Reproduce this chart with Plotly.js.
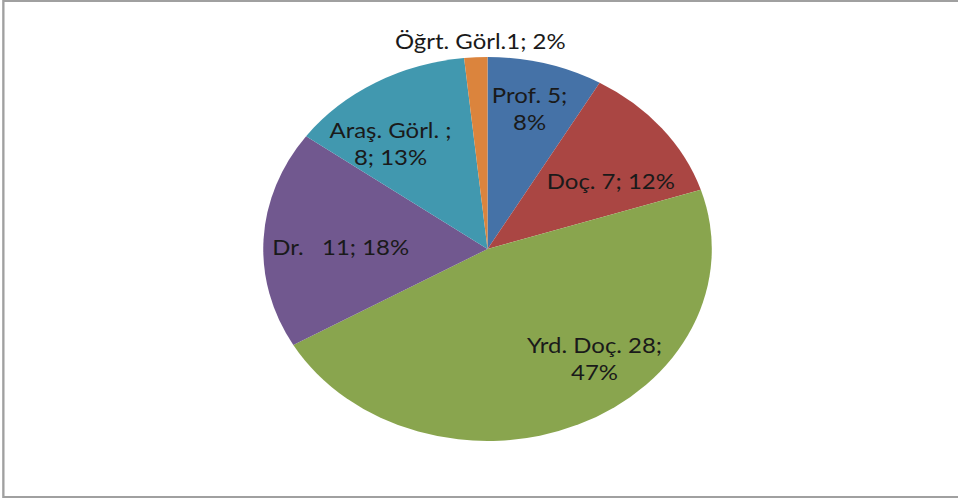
<!DOCTYPE html>
<html>
<head>
<meta charset="utf-8">
<script src="https://cdn.plot.ly/plotly-3.0.1.min.js"></script>
<style>
  html, body { margin: 0; padding: 0; background: #ffffff; overflow: hidden; }
  #wrap { width: 958px; height: 499px; overflow: hidden; }
  #chart { width: 820px; height: 499px; transform-origin: 0 0; transform: scaleX(1.16829); }
</style>
</head>
<body>
<div id="wrap"><div id="chart"></div></div>
<script>
// Data
const labels = ["Prof.", "Doç.", "Yrd. Doç.", "Dr. ", "Araş. Görl.", "Öğrt. Görl."];
const values = [5, 7, 28, 11, 8, 1];
const colors = ["#4572A7", "#AA4643", "#89A54E", "#71588F", "#4198AF", "#DB843D"];
// label text formats as in the original chart ({l}=label, {v}=value, {p}=percent)
const formats = ["{l} {v};<br>{p}", "{l} {v}; {p}", "{l} {v};<br>{p}", "{l}  {v}; {p}", "{l} ;<br>{v}; {p}", "{l}{v}; {p}"];

const total = values.reduce((a, b) => a + b, 0);
const texts = labels.map((l, i) => formats[i]
  .replace("{l}", l)
  .replace("{v}", values[i])
  .replace("{p}", Math.round(values[i] / total * 100) + "%"));

// label positions (paper coords)
const pos = [
  [0.5532, 0.782],
  [0.6375, 0.637],
  [0.6211, 0.282],
  [0.3550, 0.505],
  [0.4080, 0.712],
  [0.5011, 0.917]
];

const trace = {
  type: "pie",
  labels: labels,
  values: values,
  sort: false,
  direction: "clockwise",
  rotation: 0,
  marker: { colors: colors, line: { width: 0 } },
  textinfo: "none",
  hoverinfo: "none",
  showlegend: false,
  domain: { x: [0.2748, 0.7430], y: [0.1162, 0.8858] }
};

const annotations = texts.map((t, i) => ({
  xref: "paper", yref: "paper",
  x: pos[i][0], y: pos[i][1],
  xanchor: "center", yanchor: "middle",
  text: t, showarrow: false, align: "center",
  font: { family: "Lato, 'Open Sans', sans-serif", size: 20.5, color: "#1a1a1a" }
}));

const layout = {
  width: 820, height: 499,
  margin: { l: 0, r: 0, t: 0, b: 0 },
  paper_bgcolor: "#ffffff",
  showlegend: false,
  annotations: annotations,
  shapes: [{
    type: "rect", xref: "paper", yref: "paper",
    x0: 0.0035, x1: 1.02, y0: 0.004, y1: 0.998,
    line: { color: "#a0a0a0", width: 2 }
  }]
};

Plotly.newPlot("chart", [trace], layout, { displayModeBar: false, staticPlot: true });
</script>
</body>
</html>
